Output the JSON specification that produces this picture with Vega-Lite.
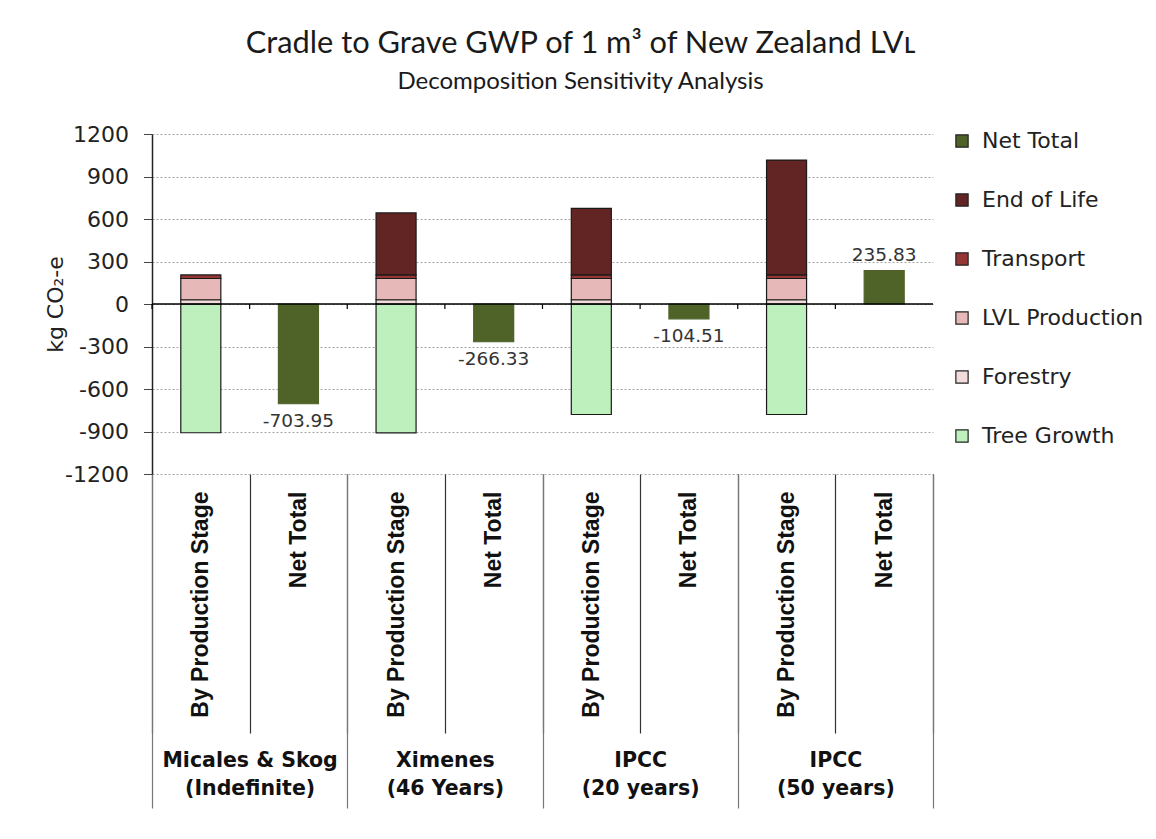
{
  "$schema": "https://vega.github.io/schema/vega-lite/v6.json",
  "autosize": {"type": "none"},
  "width": 781,
  "height": 340,
  "padding": {"left": 152, "top": 134, "right": 223, "bottom": 365},
  "background": "white",
  "title": {
    "text": "Cradle to Grave GWP of 1 m³ of New Zealand LVʟ",
    "subtitle": "Decomposition Sensitivity Analysis",
    "font": "Lato", "fontSize": 30.8, "fontWeight": "normal", "color": "#1a1a1a",
    "subtitleFont": "Lato", "subtitleFontSize": 24, "subtitleColor": "#1a1a1a",
    "subtitlePadding": 10, "anchor": "middle", "dx": 38, "offset": 28
  },
  "datasets": {
    "bars": [
      {"cat": "Micales-Stage", "series": "Tree Growth", "value": -908.95, "ord": 0},
      {"cat": "Micales-Stage", "series": "Forestry", "value": 30, "ord": 1},
      {"cat": "Micales-Stage", "series": "LVL Production", "value": 150, "ord": 2},
      {"cat": "Micales-Stage", "series": "Transport", "value": 25, "ord": 3},
      {"cat": "Micales-Net", "series": "Net Total", "value": -703.95, "ord": 5},
      {"cat": "Ximenes-Stage", "series": "Tree Growth", "value": -909, "ord": 0},
      {"cat": "Ximenes-Stage", "series": "Forestry", "value": 30, "ord": 1},
      {"cat": "Ximenes-Stage", "series": "LVL Production", "value": 150, "ord": 2},
      {"cat": "Ximenes-Stage", "series": "Transport", "value": 25, "ord": 3},
      {"cat": "Ximenes-Stage", "series": "End of Life", "value": 437.67, "ord": 4},
      {"cat": "Ximenes-Net", "series": "Net Total", "value": -266.33, "ord": 5},
      {"cat": "IPCC20-Stage", "series": "Tree Growth", "value": -780, "ord": 0},
      {"cat": "IPCC20-Stage", "series": "Forestry", "value": 30, "ord": 1},
      {"cat": "IPCC20-Stage", "series": "LVL Production", "value": 150, "ord": 2},
      {"cat": "IPCC20-Stage", "series": "Transport", "value": 25, "ord": 3},
      {"cat": "IPCC20-Stage", "series": "End of Life", "value": 470.49, "ord": 4},
      {"cat": "IPCC20-Net", "series": "Net Total", "value": -104.51, "ord": 5},
      {"cat": "IPCC50-Stage", "series": "Tree Growth", "value": -780, "ord": 0},
      {"cat": "IPCC50-Stage", "series": "Forestry", "value": 30, "ord": 1},
      {"cat": "IPCC50-Stage", "series": "LVL Production", "value": 150, "ord": 2},
      {"cat": "IPCC50-Stage", "series": "Transport", "value": 25, "ord": 3},
      {"cat": "IPCC50-Stage", "series": "End of Life", "value": 810.83, "ord": 4},
      {"cat": "IPCC50-Net", "series": "Net Total", "value": 235.83, "ord": 5}
    ],
    "cats": [
      {"cat": "Micales-Stage"}, {"cat": "Micales-Net"},
      {"cat": "Ximenes-Stage"}, {"cat": "Ximenes-Net"},
      {"cat": "IPCC20-Stage"}, {"cat": "IPCC20-Net"},
      {"cat": "IPCC50-Stage"}, {"cat": "IPCC50-Net"}
    ],
    "groups": [
      {"group": "Micales & Skog|(Indefinite)"},
      {"group": "Ximenes|(46 Years)"},
      {"group": "IPCC|(20 years)"},
      {"group": "IPCC|(50 years)"}
    ]
  },
  "layer": [
    {
      "layer": [
        {
          "data": {"name": "bars"},
          "mark": {"type": "bar", "width": {"band": 0.41}, "strokeWidth": 1.2},
          "encoding": {
            "x": {
              "field": "cat", "type": "nominal",
              "scale": {"type": "band", "domain": ["Micales-Stage", "Micales-Net", "Ximenes-Stage", "Ximenes-Net", "IPCC20-Stage", "IPCC20-Net", "IPCC50-Stage", "IPCC50-Net"], "paddingInner": 0, "paddingOuter": 0},
              "axis": {
                "orient": "bottom", "title": null, "domain": false, "grid": false,
                "labelExpr": "isString(datum.value) ? (test(/Stage$/, datum.value) ? 'By Production Stage' : 'Net Total') : ''",
                "labelAngle": -90, "labelFont": "Liberation Sans", "labelFontWeight": "bold", "labelFontSize": 23, "labelColor": "#111",
                "labelOverlap": false, "labelFlush": false, "labelBound": false, "labelLimit": 0,
                "tickBand": "extent", "tickSize": 259, "tickColor": "#333", "tickWidth": 1.2,
                "labelPadding": -242
              }
            },
            "y": {
              "field": "value", "type": "quantitative", "stack": "zero",
              "scale": {"domain": [-1200, 1200], "nice": false, "zero": false},
              "axis": {
                "title": "kg CO₂-e",
                "values": [-1200, -900, -600, -300, 0, 300, 600, 900, 1200],
                "format": "d",
                "labelFont": "DejaVu Sans", "labelFontSize": 22, "labelColor": "#222", "labelPadding": 15,
                "tickSize": 8.5, "tickColor": "#444", "domainColor": "#222", "domainWidth": 1.5,
                "grid": true, "gridColor": "#A6A6A6", "gridDash": [2, 2], "gridWidth": 1,
                "titleFont": "DejaVu Sans", "titleFontSize": 22, "titleFontWeight": "normal", "titleColor": "#222",
                "titleX": -97, "titleY": 170, "titleAngle": -90, "titleAlign": "center", "titleBaseline": "middle"
              }
            },
            "color": {
              "field": "series", "type": "nominal",
              "scale": {
                "domain": ["Net Total", "End of Life", "Transport", "LVL Production", "Forestry", "Tree Growth"],
                "range": ["#4F6228", "#632523", "#943634", "#E6B9B8", "#F2DCDB", "#BEF0BE"]
              },
              "legend": {
                "title": null, "orient": "none", "legendX": 799, "legendY": -4,
                "symbolType": "square", "symbolSize": 150, "symbolStrokeColor": "#222", "symbolStrokeWidth": 1.2,
                "labelFont": "DejaVu Sans", "labelFontSize": 22, "labelColor": "#222", "labelOffset": 9, "labelLimit": 0,
                "rowPadding": 37, "padding": 0
              }
            },
            "order": {"field": "ord", "type": "quantitative"},
            "stroke": {"condition": {"test": "datum.series === 'Net Total'", "value": "#4F6228"}, "value": "#1a1a1a"}
          }
        },
        {
          "data": {"name": "bars"},
          "transform": [{"filter": "datum.series === 'Net Total' && datum.value < 0"}],
          "mark": {"type": "text", "baseline": "top", "dy": 8, "font": "DejaVu Sans", "fontSize": 18.5, "color": "#333"},
          "encoding": {
            "x": {"field": "cat", "type": "nominal"},
            "y": {"field": "value", "type": "quantitative"},
            "text": {"field": "value", "type": "quantitative", "format": ".2f"}
          }
        },
        {
          "data": {"name": "bars"},
          "transform": [{"filter": "datum.series === 'Net Total' && datum.value > 0"}],
          "mark": {"type": "text", "baseline": "alphabetic", "dy": -10, "font": "DejaVu Sans", "fontSize": 18.5, "color": "#333"},
          "encoding": {
            "x": {"field": "cat", "type": "nominal"},
            "y": {"field": "value", "type": "quantitative"},
            "text": {"field": "value", "type": "quantitative", "format": ".2f"}
          }
        },
        {
          "data": {"values": [{}]},
          "mark": {"type": "rule", "color": "#000", "strokeWidth": 1.5},
          "encoding": {"y": {"datum": 0}}
        },
        {
          "data": {"name": "cats"},
          "mark": {"type": "rule", "color": "#000", "strokeWidth": 1.2},
          "encoding": {
            "x": {"field": "cat", "type": "nominal", "bandPosition": 0},
            "y": {"datum": 0},
            "y2": {"datum": -35}
          }
        }
      ]
    },
    {
      "data": {"name": "groups"},
      "mark": {"type": "point", "opacity": 0},
      "encoding": {
        "x": {
          "field": "group", "type": "nominal",
          "scale": {"type": "band", "domain": ["Micales & Skog|(Indefinite)", "Ximenes|(46 Years)", "IPCC|(20 years)", "IPCC|(50 years)"], "paddingInner": 0, "paddingOuter": 0},
          "axis": {
            "orient": "bottom", "title": null, "domain": false, "grid": false,
            "labelExpr": "isString(datum.value) ? split(datum.value, '|') : ''",
            "labelAngle": 0, "labelBaseline": "top", "labelAlign": "center",
            "labelFont": "DejaVu Sans", "labelFontWeight": "bold", "labelFontSize": 20.5, "labelColor": "#111",
            "labelLineHeight": 28, "labelOverlap": false, "labelFlush": false, "labelBound": false, "labelLimit": 0,
            "tickBand": "extent", "tickSize": 334, "tickColor": "#777", "tickWidth": 1.2,
            "labelPadding": -58
          }
        },
        "y": {"datum": 0}
      }
    }
  ],
  "resolve": {"scale": {"x": "independent"}, "axis": {"x": "independent"}},
  "config": {
    "view": {"stroke": null},
    "locale": {"number": {"decimal": ".", "thousands": ",", "grouping": [3], "currency": ["$", ""], "minus": "-"}}
  }
}
